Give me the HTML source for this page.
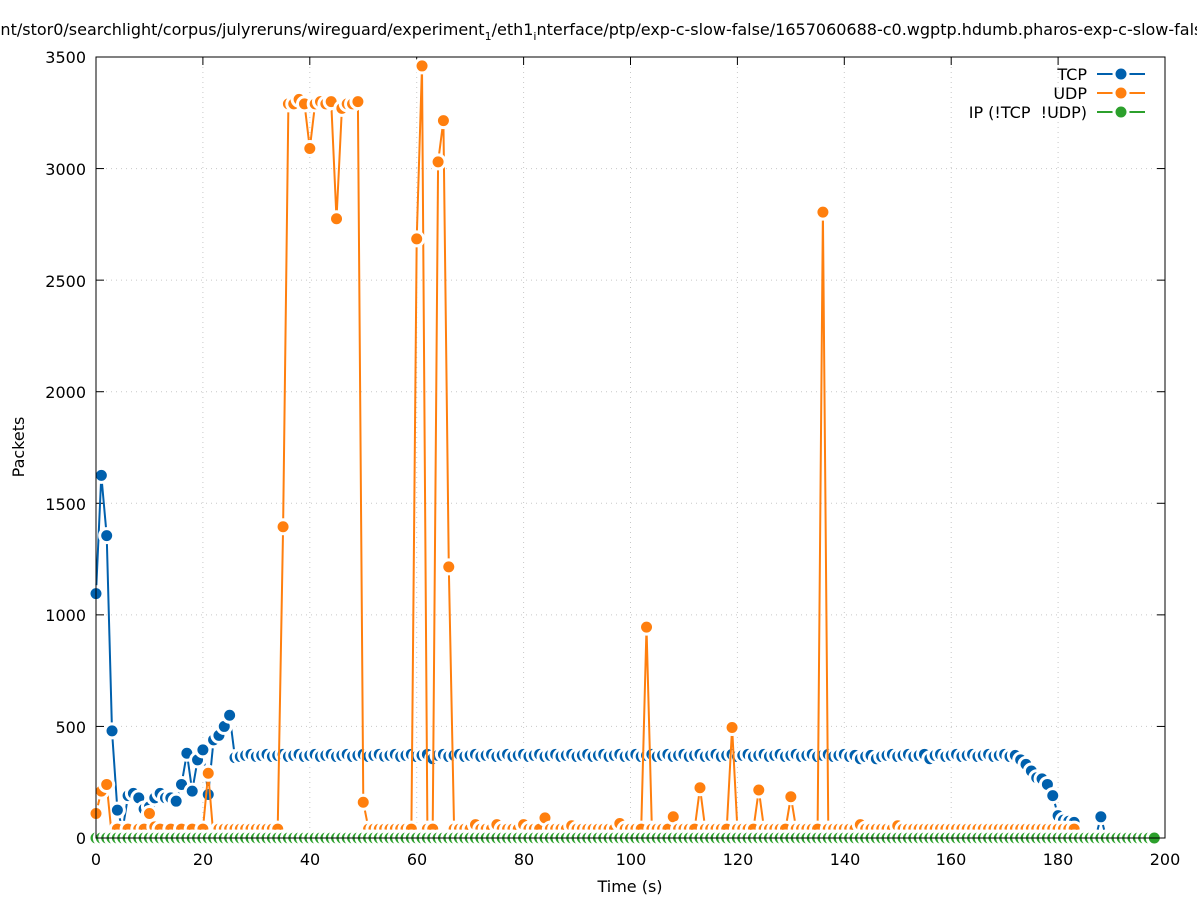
<!DOCTYPE html>
<html><head><meta charset="utf-8">
<style>
html,body{margin:0;padding:0;background:#fff;overflow:hidden;}
svg{display:block;font-family:"DejaVu Sans","Liberation Sans",sans-serif;}
</style></head>
<body>
<svg id="s" width="1197" height="900" viewBox="0 0 1197 900" xmlns="http://www.w3.org/2000/svg">
<rect width="1197" height="900" fill="#fff"/>
<g id="grid" stroke="#c8c8c8" stroke-width="1" stroke-dasharray="1,4"></g>
<g id="axes" stroke="#000" stroke-width="1" fill="none"></g>
<g id="series"></g>
<rect x="96" y="57" width="1069" height="781" fill="none" stroke="#000" stroke-width="1"/>
<g font-size="16" fill="#000">
<text x="-25" y="35" font-size="16">ment/stor0/searchlight/corpus/julyreruns/wireguard/experiment<tspan font-size="11" dy="5">1</tspan><tspan dy="-5">/eth1</tspan><tspan font-size="11" dy="5">i</tspan><tspan dy="-5">nterface/ptp/exp-c-slow-false/1657060688-c0.wgptp.hdumb.pharos-exp-c-slow-false</tspan></text>
<text x="86" y="844" text-anchor="end">0</text>
<text x="86" y="733" text-anchor="end">500</text>
<text x="86" y="621" text-anchor="end">1000</text>
<text x="86" y="510" text-anchor="end">1500</text>
<text x="86" y="398" text-anchor="end">2000</text>
<text x="86" y="287" text-anchor="end">2500</text>
<text x="86" y="175" text-anchor="end">3000</text>
<text x="86" y="63" text-anchor="end">3500</text>
<text x="96" y="865" text-anchor="middle">0</text>
<text x="203" y="865" text-anchor="middle">20</text>
<text x="310" y="865" text-anchor="middle">40</text>
<text x="417" y="865" text-anchor="middle">60</text>
<text x="524" y="865" text-anchor="middle">80</text>
<text x="631" y="865" text-anchor="middle">100</text>
<text x="738" y="865" text-anchor="middle">120</text>
<text x="845" y="865" text-anchor="middle">140</text>
<text x="951" y="865" text-anchor="middle">160</text>
<text x="1058" y="865" text-anchor="middle">180</text>
<text x="1165" y="865" text-anchor="middle">200</text>
<text x="630" y="892" text-anchor="middle">Time (s)</text>
<text x="24" y="447" text-anchor="middle" transform="rotate(-90 24 447)">Packets</text>
<text x="1087" y="80" text-anchor="end">TCP</text>
<text x="1087" y="99" text-anchor="end">UDP</text>
<text x="1087" y="118" text-anchor="end" xml:space="preserve">IP (!TCP  !UDP)</text>
</g>
<g stroke-width="2">
<line x1="1097" y1="74" x2="1145" y2="74" stroke="#0060ad"/><circle cx="1121" cy="74" r="7" fill="#0060ad" stroke="#fff" stroke-width="3"/>
<line x1="1097" y1="93" x2="1145" y2="93" stroke="#ff7f0e"/><circle cx="1121" cy="93" r="7" fill="#ff7f0e" stroke="#fff" stroke-width="3"/>
<line x1="1097" y1="112" x2="1145" y2="112" stroke="#2ca02c"/><circle cx="1121" cy="112" r="7" fill="#2ca02c" stroke="#fff" stroke-width="3"/>
</g>
</svg>
<script>
(function(){
var NS="http://www.w3.org/2000/svg";
var X0=96,XS=1069/200,Y0=838,YS=781/3500;
function px(t){return X0+t*XS;} function py(v){return Y0-v*YS;}
function el(p,n,a){var e=document.createElementNS(NS,n);for(var k in a)e.setAttribute(k,a[k]);p.appendChild(e);return e;}
var grid=document.getElementById('grid'),axes=document.getElementById('axes');
for(var v=500;v<3500;v+=500){el(grid,'line',{x1:96,x2:1165,y1:py(v),y2:py(v)});}
for(var t=20;t<200;t+=20){el(grid,'line',{x1:px(t),x2:px(t),y1:57,y2:838});}
for(var v=0;v<=3500;v+=500){el(axes,'line',{x1:96,x2:104,y1:py(v),y2:py(v)});el(axes,'line',{x1:1157,x2:1165,y1:py(v),y2:py(v)});}
for(var t=0;t<=200;t+=20){el(axes,'line',{x1:px(t),x2:px(t),y1:838,y2:830});el(axes,'line',{x1:px(t),x2:px(t),y1:57,y2:65});}
var tcp={0:1095,1:1625,2:1355,3:480,4:125,5:40,6:190,7:200,8:180,9:130,10:140,11:180,12:200,13:180,14:180,15:165,16:240,17:380,18:210,19:350,20:395,21:195,22:440,23:460,24:500,25:550,26:360};
var T=[];
for(var i=0;i<=189;i++){var v;
 if(tcp[i]!==undefined)v=tcp[i];
 else if(i<=172)v=370+((i*7)%3-1)*5;
 else v={173:350,174:330,175:300,176:270,177:265,178:240,179:190,180:100,181:80,182:75,183:70,184:0,185:0,186:0,187:0,188:95,189:0}[i];
 if(i==63||i==143||i==146||i==156)v=355;
 T.push([i,v]);}
var ud={0:110,1:210,2:240,3:0,9:40,10:110,11:50,21:290,22:0,35:1395,36:3290,37:3290,38:3310,39:3290,40:3090,41:3290,42:3300,43:3290,44:3300,45:2775,46:3270,47:3290,48:3290,49:3300,50:160,60:2685,61:3460,62:40,63:40,64:3030,65:3215,66:1215,71:60,75:60,80:60,84:90,89:55,98:65,103:945,108:95,113:225,119:495,124:215,130:185,136:2805,143:60,150:55};
var U=[];
for(var i=0;i<=183;i++){var v=ud[i]!==undefined?ud[i]:(i<22&&i>3?(i%2?0:40):40);U.push([i,v]);}
var G=[];for(var i=0;i<=198;i++)G.push([i,0]);
var ser=document.getElementById('series');
function draw(D,c){
 var d=D.map(function(p,k){return (k?'L':'M')+px(p[0]).toFixed(1)+' '+py(p[1]).toFixed(1);}).join('');
 el(ser,'path',{d:d,fill:'none',stroke:c,'stroke-width':2,'stroke-linejoin':'round'});
 D.forEach(function(p){el(ser,'circle',{cx:px(p[0]),cy:py(p[1]),r:7,fill:c,stroke:'#fff','stroke-width':3});});
}
draw(T,'#0060ad');draw(U,'#ff7f0e');draw(G,'#2ca02c');
})();
</script>
</body></html>
